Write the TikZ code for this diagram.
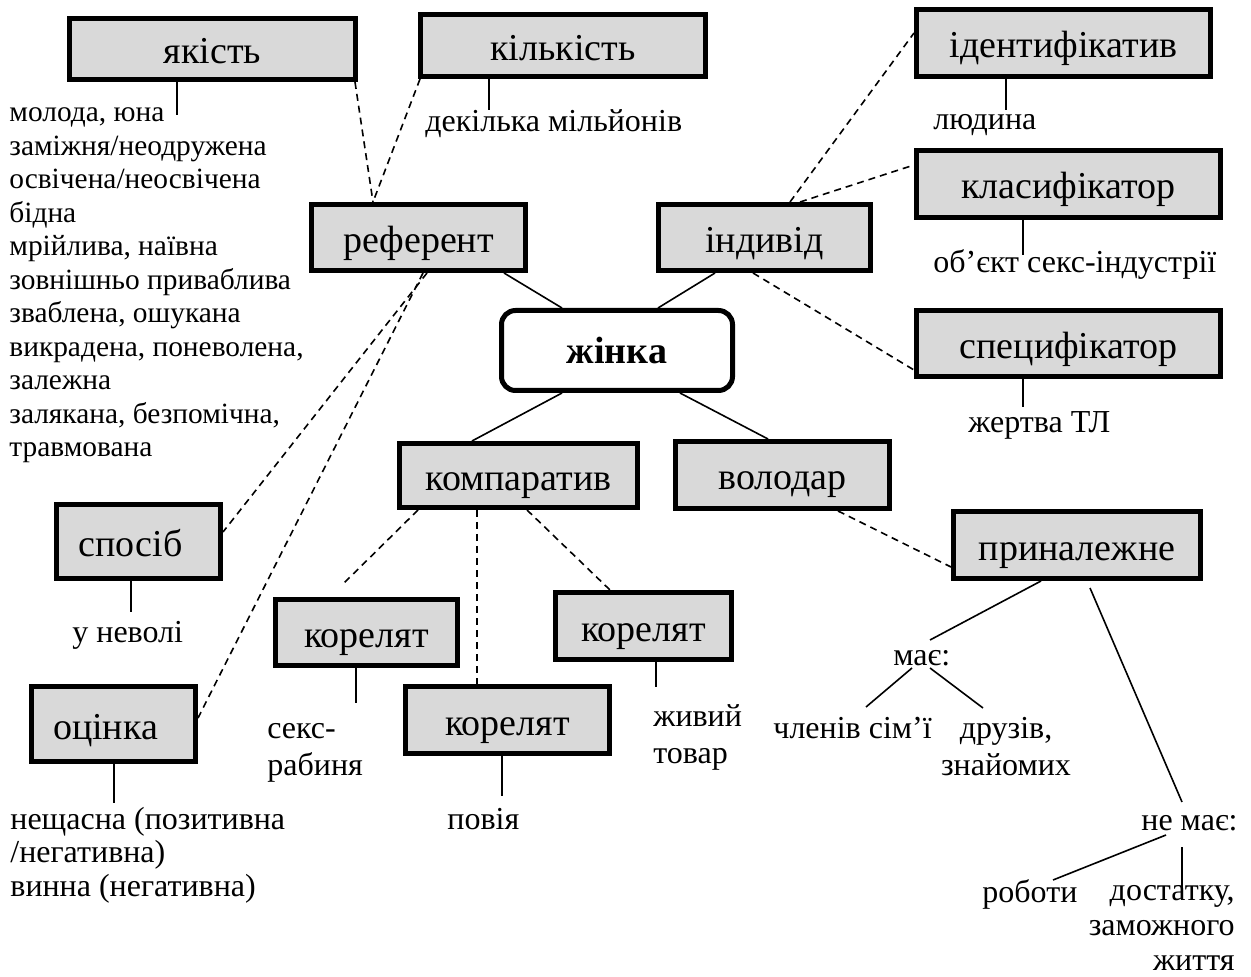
\documentclass[tikz,border=0pt]{standalone}
\usepackage{fontspec}
\setmainfont{Liberation Serif}
\usetikzlibrary{calc,backgrounds}
\definecolor{boxgray}{HTML}{D9D9D9}
\newcommand\bodyfont{\fontsize{16pt}{16.75pt}\selectfont}
\newcommand\listfont{\fontsize{14.7pt}{16.75pt}\selectfont}
\newcommand\widefont{\fontsize{16pt}{18.5pt}\selectfont}
\newcommand\tailfont{\fontsize{16pt}{17.5pt}\selectfont}
\newcommand\boxfont{\fontsize{19pt}{22pt}\selectfont}
\tikzset{
  box/.style={draw, line width=2.5pt, fill=boxgray, inner sep=0pt, font=\boxfont,
    text height=15pt, text depth=0pt},
  core/.style={draw, line width=2.5pt, fill=white, rounded corners=7pt, inner sep=0pt, font=\boxfont\bfseries},
  txt/.style={inner sep=0pt, anchor=base west, font=\bodyfont, align=left},
  link/.style={line width=0.8pt},
  dlink/.style={line width=0.8pt, dash pattern=on 3.5pt off 2.5pt},
}
\begin{document}
\begin{tikzpicture}[x=0.5pt, y=-0.5pt]
\useasboundingbox (0,0) rectangle (1251,977);

% concept boxes
\node[box, minimum width=143pt,   minimum height=30.5pt] (yakist)  at (212.5,49)   {якість};
\node[box, minimum width=142.5pt, minimum height=31pt]   (kilkist) at (563,45.5)   {кількість};
\node[box, minimum width=147pt,   minimum height=33.5pt] (ident)   at (1063.5,43)  {ідентифікатив};
\node[box, minimum width=152pt,   minimum height=33.5pt] (klas)    at (1068.5,184) {класифікатор};
\node[box, minimum width=152pt,   minimum height=33pt]   (spec)    at (1068.5,343.5) {специфікатор};
\node[box, minimum width=107pt,   minimum height=33pt]   (ref)     at (418.5,237.5) {референт};
\node[box, minimum width=106pt,   minimum height=33pt]   (indyvid) at (764.5,237.5) {індивід};
\node[core, minimum width=115.5pt, minimum height=40pt]  (zhinka)  at (617,350.5)  {жінка};
\node[box, minimum width=119pt,   minimum height=32pt]   (komp)    at (518.5,475.5) {компаратив};
\node[box, minimum width=107pt,   minimum height=33.5pt] (volodar) at (782.5,475)  {володар};
\node[box, minimum width=123.5pt, minimum height=33.5pt] (prynal)  at (1077,545)   {приналежне};
\node[box, minimum width=82pt,    minimum height=37pt]   (sposib)  at (138.5,541.5) {спосіб\hspace*{8pt}};
\node[box, minimum width=82pt,    minimum height=37.5pt] (otsinka) at (113.5,724)  {оцінка\hspace*{8pt}};
\node[box, minimum width=91pt,    minimum height=33pt]   (kor1)    at (366.5,632.5) {корелят};
\node[box, minimum width=102pt,   minimum height=33.5pt] (kor2)    at (507.5,720)  {корелят};
\node[box, minimum width=88pt,    minimum height=33.5pt] (kor3)    at (643.5,626)  {корелят};

% value texts (multi-line texts are placed by the baseline of their last line)
\node[txt, font=\listfont] (tyakist) at (9,457) {молода, юна\\заміжня/неодружена\\освічена/неосвічена\\бідна\\мрійлива, наївна\\зовнішньо приваблива\\зваблена, ошукана\\викрадена, поневолена,\\залежна\\залякана, безпомічна,\\травмована};
\node[txt] (tkilk)  at (425,132) {декілька мільйонів};
\node[txt] (tident) at (933,130) {людина};
\node[txt] (tklas)  at (933,273) {об’єкт секс-індустрії};
\node[txt] (tspec)  at (968,433) {жертва ТЛ};
\node[txt] (tspos)  at (72,642)  {у неволі};
\node[txt] (totsin) at (10,896)  {нещасна (позитивна\\/негативна)\\винна (негативна)};
\node[txt] (tkor2)  at (447,829) {повія};
\node[txt, font=\widefont] (tkor1) at (267,775) {секс-\\рабиня};
\node[txt, font=\widefont] (tkor3) at (653,763) {живий\\товар};
\node[txt] (tmae)   at (893,665) {має:};
\node[txt] (tchlen) at (773,738) {членів сім’ї};
\node[txt, font=\widefont, align=center, anchor=base] (tdruz) at (1006,775) {друзів,\\знайомих};
\node[txt] (tnemae) at (1141,830) {не має:};
\node[txt] (trob)   at (982,902) {роботи};
\node[txt, font=\tailfont, align=right, anchor=base east] (tdost) at (1235,970) {достатку,\\заможного\\життя};

% free ends of the short connectors
\coordinate (maeIn)   at (930,640);
\coordinate (maeL)    at (912,668);
\coordinate (chlenE)  at (866,707);
\coordinate (maeR)    at (930,668);
\coordinate (druzE)   at (983,708);
\coordinate (nemaeIn) at (1182,802);
\coordinate (prynalS) at (1090,588);
\coordinate (nemaeL)  at (1166,835);
\coordinate (robE)    at (1053,880);
\coordinate (nemaeD)  at (1182,847);
\coordinate (dostE)   at (1182,892);

\begin{scope}[on background layer]
  % core relations
  \draw[link] (ref.south -| 504,0) -- (zhinka.north -| 562,0);
  \draw[link] (indyvid.south -| 715,0) -- (zhinka.north -| 658,0);
  \draw[link] (zhinka.south -| 562,0) -- (komp.north -| 472,0);
  \draw[link] (zhinka.south -| 680,0) -- (volodar.north -| 768,0);
  % optional relations
  \draw[dlink] (yakist.south -| 355,0) -- (ref.north -| 373,0);
  \draw[dlink] (kilkist.south -| 420,0) -- (ref.north -| 373,0);
  \draw[dlink] (ref.south -| 427,0) -- (sposib.east |- 0,532);
  \draw[dlink] (ref.south -| 423,0) -- (otsinka.east |- 0,718);
  \draw[dlink] (indyvid.north -| 790,0) -- (ident.west |- 0,33);
  \draw[dlink] (indyvid.north -| 800,0) -- (klas.west |- 0,165);
  \draw[dlink] (indyvid.south -| 753,0) -- (spec.west |- 0,370);
  \draw[dlink] (komp.south -| 418,0) -- ($(kor1.north -| 342,0)+(0,-12)$);
  \draw[dlink] (komp.south -| 477,0) -- (kor2.north -| 477,0);
  \draw[dlink] (komp.south -| 527,0) -- (kor3.north -| 610,0);
  \draw[dlink] (volodar.south -| 838,0) -- (prynal.west |- 0,567);
  % value stems
  \draw[link] (yakist.south -| 177,0) -- ++(0,33);
  \draw[link] (kilkist.south -| 489,0) -- ++(0,31);
  \draw[link] (ident.south -| 1006,0) -- ++(0,31);
  \draw[link] (klas.south -| 1023,0) -- ++(0,35);
  \draw[link] (spec.south -| 1023,0) -- ++(0,28);
  \draw[link] (sposib.south -| 131,0) -- ++(0,31);
  \draw[link] (otsinka.south -| 114,0) -- ++(0,39);
  \draw[link] (kor1.south -| 356,0) -- ++(0,35);
  \draw[link] (kor2.south -| 502,0) -- ++(0,40);
  \draw[link] (kor3.south -| 656,0) -- ++(0,25);
  % possessions
  \draw[link] (prynal.south -| 1041,0) -- (maeIn);
  \draw[link] (maeL) -- (chlenE);
  \draw[link] (maeR) -- (druzE);
  \draw[link] (prynalS) -- (nemaeIn);
  \draw[link] (nemaeL) -- (robE);
  \draw[link] (nemaeD) -- (dostE);
\end{scope}
\end{tikzpicture}
\end{document}
